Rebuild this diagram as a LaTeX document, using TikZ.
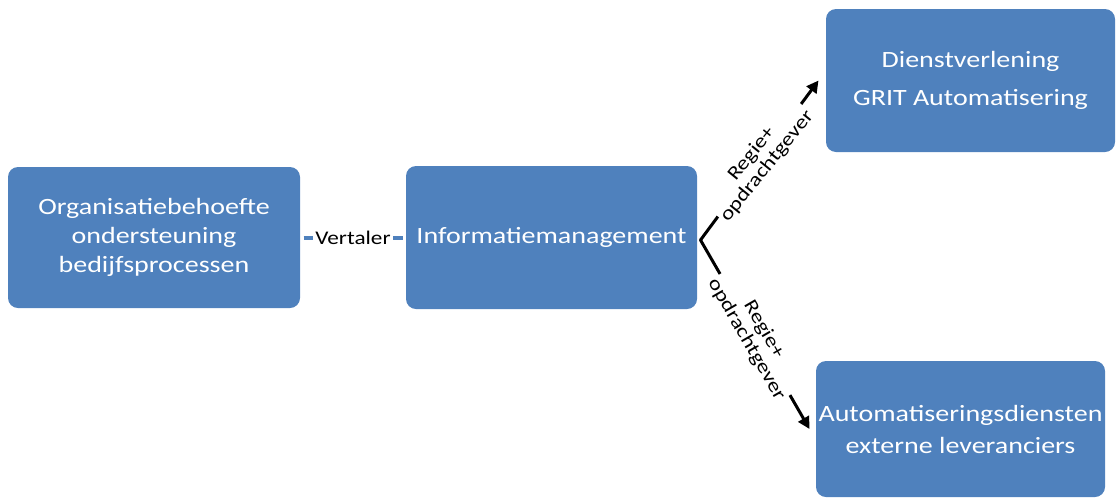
\documentclass[tikz,border=0pt]{standalone}
\usepackage{fontspec}
\setmainfont{Carlito}[FakeStretch=1.2]
\usetikzlibrary{arrows.meta}
\definecolor{smartblue}{RGB}{79,129,189}
\tikzset{every picture/.style={line width=0.75pt}}
\tikzset{
  blok/.style={fill=smartblue, rounded corners=7.5pt, text=white, align=center, inner sep=0pt, font=\fontsize{17.5}{22}\selectfont},
  lbl/.style={fill=white, text=black, inner xsep=1pt, inner ysep=1pt, align=center, font=\fontsize{14.5}{15}\selectfont},
  pijl/.style={line width=2.25pt, line cap=round, -{Triangle[length=9pt,width=9pt]}},
}

\begin{document}
\begin{tikzpicture}[x=0.75pt,y=0.75pt,yscale=-1,xscale=1]
\useasboundingbox (0,0) rectangle (1116,497);

% Rounded Rect
\node [blok, minimum width=219pt, minimum height=105.75pt] (org) at (154,237.5) {Organisatiebehoefte\\ondersteuning\\bedijfsprocessen};
% Rounded Rect
\node [blok, minimum width=218.25pt, minimum height=107.25pt] (im) at (551.5,237.5) {Informatiemanagement};
% Rounded Rect
\node [blok, minimum width=216.75pt, minimum height=107.25pt, font=\fontsize{17.5}{29}\selectfont] (dv) at (970.5,80.5) {Dienstverlening\\GRIT Automatisering};
% Rounded Rect
\node [blok, minimum width=216.75pt, minimum height=102pt, font=\fontsize{17.5}{24}\selectfont] (ext) at (960.5,429) {Automatiseringsdiensten\\externe leveranciers};

% Straight Lines
\draw [smartblue, line width=3pt, shorten <=2.25pt, shorten >=2.25pt] (org) -- (im) node [midway, lbl, inner xsep=2pt] {Vertaler};

\coordinate (fork) at ([xshift=2.25pt,yshift=1.9pt]im.east);
% Arrows
\draw [pijl] (fork) -- ([xshift=-5.25pt]dv.west) node [midway, rotate=51, lbl] {Regie+\\opdrachtgever};
\draw [pijl] (fork) -- ([xshift=-4.5pt]ext.west) node [midway, rotate=-60, lbl] {Regie+\\opdrachtgever};

\end{tikzpicture}
\end{document}
